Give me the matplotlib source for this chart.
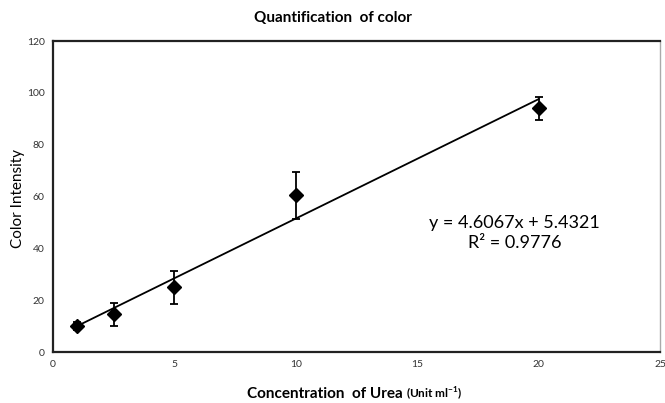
import matplotlib
matplotlib.use("Agg")
import matplotlib.pyplot as plt
import numpy as np

plt.rcParams['font.family'] = ['Lato', 'DejaVu Sans']

conc = [1, 2.5, 5, 10, 20]
intensity = [10.0, 14.5, 25.0, 60.5, 94.0]
err = [1.5, 4.3, 6.3, 9.0, 4.5]
slope = 4.6067
intercept = 5.4321
r2 = 0.9776
xticks = [0, 5, 10, 15, 20, 25]
yticks = [0, 20, 40, 60, 80, 100, 120]

fig = plt.figure(figsize=(6.65, 4.03), dpi=100)
ax = fig.add_axes([53/665, 1-352/403, 607/665, 311/403])

xl = np.array([min(conc), max(conc)])
ax.plot(xl, slope*xl + intercept, color='black', lw=1.3, zorder=2)
ax.errorbar(conc, intensity, yerr=err, fmt='D', color='black', ms=7.5,
            ecolor='black', elinewidth=1.3, capsize=3, capthick=1.3, zorder=3)

ax.set_xlim(0, 25)
ax.set_ylim(0, 120)
ax.set_xticks(xticks)
ax.set_yticks(yticks)
ax.tick_params(length=0, labelsize=7.5, colors='#333333', pad=6)
for s in ax.spines.values():
    s.set_linewidth(1.6)
    s.set_color('#222222')
ax.spines['right'].set_color('#aaaaaa')
ax.spines['right'].set_linewidth(1.0)

ax.text(19.0, 46, f"y = {slope}x + {intercept}\nR² = {r2}", fontsize=13,
        ha='center', va='center', linespacing=1.35)

fig.text(0.5, 1-18/403, "Quantification  of color", ha='center', va='center',
         fontsize=11, fontweight='bold')
fig.text(18/665, 1-198/403, "Color Intensity", rotation=90, ha='center', va='center',
         fontsize=11)

fig.text(403/665, 1-398/403, "Concentration  of Urea", ha='right', va='baseline',
         fontsize=11, fontweight='bold')
fig.text(406/665, 1-398/403, r"(Unit ml$^{\mathregular{-1}}$)", ha='left', va='baseline',
         fontsize=8.5, fontweight='bold')

fig.savefig("out.png", dpi=100)
